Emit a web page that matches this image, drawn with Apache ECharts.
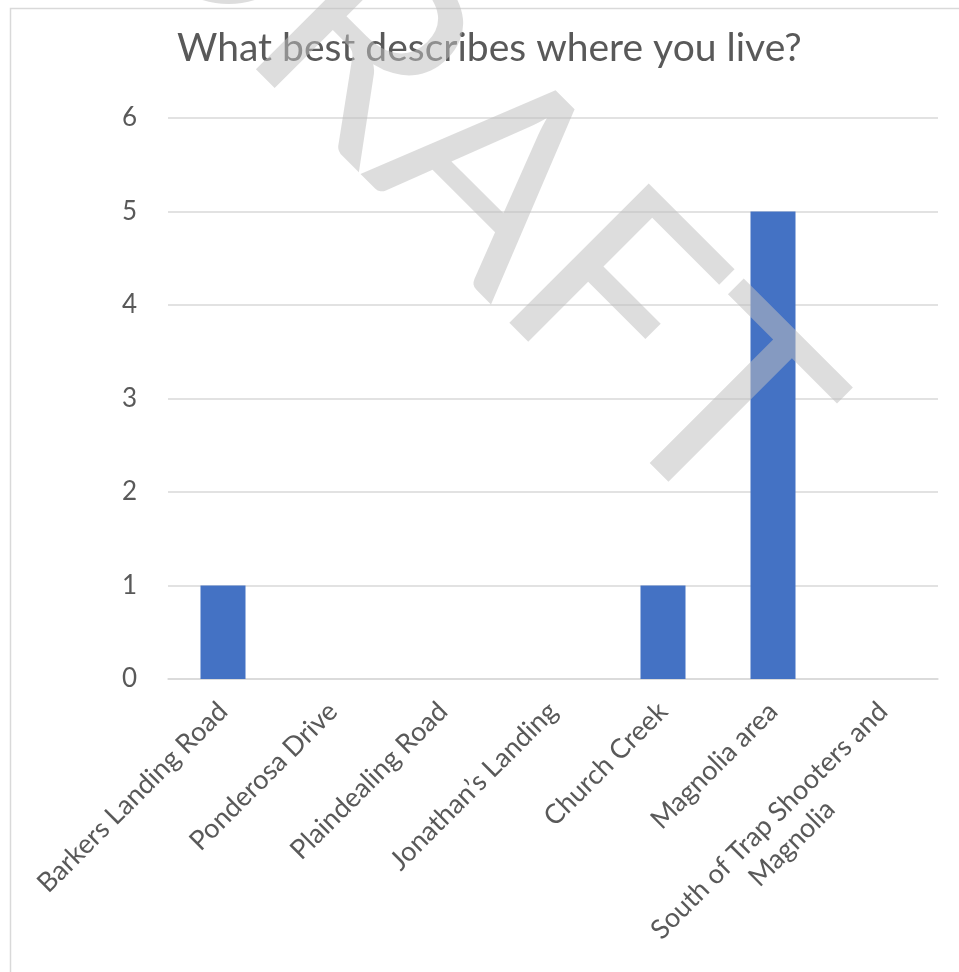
<!DOCTYPE html>
<html>
<head>
<meta charset="utf-8">
<script src="https://cdn.jsdelivr.net/npm/echarts@6/dist/echarts.min.js"></script>
<style>html,body{margin:0;padding:0;background:#fff}#c{width:959px;height:972px}</style>
</head>
<body>
<div id="c"></div>
<script>
const titleText = 'What best describes where you live?';
const categories = ['Barkers Landing Road', 'Ponderosa Drive', 'Plaindealing Road', 'Jonathan\u2019s Landing', 'Church Creek', 'Magnolia area', 'South of Trap Shooters and\nMagnolia'];
const values = [1, 0, 0, 0, 1, 5, 0];
const yTicks = [0, 1, 2, 3, 4, 5, 6];
const watermark = 'DRAFT';

const FONT = 'Lato, "Open Sans", sans-serif';
const LH = 32;
const catData = categories.map(c => {
  const lines = c.split('\n').length;
  return lines > 1 ? {value: c, textStyle: {padding: [LH * (lines - 1), 0, 0, 0]}} : c;
});
const chart = echarts.init(document.getElementById('c'), null, {renderer: 'canvas'});
chart.setOption({
  backgroundColor: '#ffffff',
  animation: false,
  title: {
    text: titleText, left: 172, top: 24,
    textStyle: {fontFamily: FONT, fontSize: 39, fontWeight: 'normal', color: '#595959'}
  },
  grid: {left: 168, right: 21, top: 118, bottom: 293},
  xAxis: {
    type: 'category', data: catData,
    axisLine: {lineStyle: {color: '#d9d9d9', width: 1.5}},
    axisTick: {show: false},
    axisLabel: {
      interval: 0, rotate: 45, margin: 28,
      fontFamily: FONT, fontSize: 27, color: '#595959',
      formatter: function (v) { return v.split('\n').map(s => '{c|' + s + '}').join('\n'); },
      rich: {c: {align: 'center', fontFamily: FONT, fontSize: 27, color: '#595959', lineHeight: LH}}
    }
  },
  yAxis: {
    type: 'value', min: yTicks[0], max: yTicks[yTicks.length - 1], interval: 1,
    axisLine: {show: false}, axisTick: {show: false},
    splitLine: {lineStyle: {color: '#d9d9d9', width: 1.5}},
    axisLabel: {margin: 31, fontFamily: FONT, fontSize: 26, color: '#595959'}
  },
  series: [{
    type: 'bar', data: values, barWidth: 45,
    itemStyle: {color: '#4472c4'}
  }],
  graphic: [
    {type: 'rect', left: 8, top: 6, silent: true, z: 0,
     shape: {width: 1100, height: 1100},
     style: {fill: 'none', stroke: '#d9d9d9', lineWidth: 1.5}},
    {type: 'text', x: 466, y: 154, rotation: -Math.PI / 4, z: 100, silent: true,
     style: {text: watermark, fontFamily: FONT, fontSize: 275, fontWeight: 'normal',
             fill: 'rgba(191,191,191,0.53)', align: 'center', verticalAlign: 'middle'}}
  ]
});
</script>
</body>
</html>
